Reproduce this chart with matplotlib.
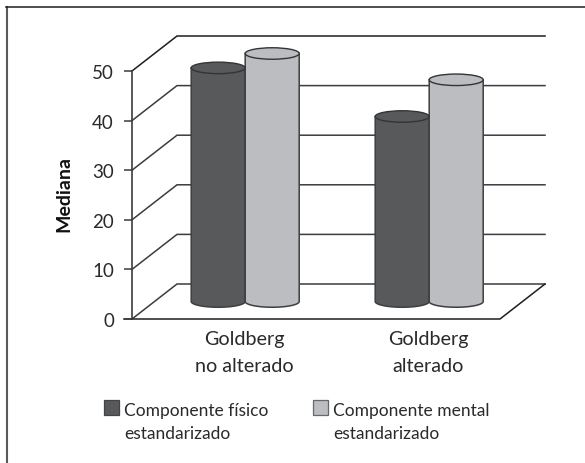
import matplotlib
matplotlib.use("Agg")
import matplotlib.pyplot as plt
import numpy as np
from matplotlib.lines import Line2D
from matplotlib.patches import Ellipse, Polygon, Rectangle

categories = ["Goldberg\nno alterado", "Goldberg\nalterado"]
series_names = ["Componente físico\nestandarizado", "Componente mental\nestandarizado"]
fisico = [47.1, 37.3]
mental = [50.0, 44.7]
y_ticks = [0, 10, 20, 30, 40, 50]

W, H = 585, 464
DARK = "#58595b"
LIGHT = "#bcbdc0"
LINE = "#3c3c3e"
TEXT = "#2a2a2c"

plt.rcParams["font.family"] = ["Lato", "DejaVu Sans"]

fig = plt.figure(figsize=(W / 100, H / 100), dpi=100)
fig.patch.set_facecolor("white")

# axes box covers the front plane of the 3D-looking plot
left, right, top, bottom = 132, 500, 72, 320
ax = fig.add_axes([left / W, 1 - bottom / H, (right - left) / W, (bottom - top) / H])
ax.set_xlim(0, 2)
ax.set_ylim(0, 50)
ax.patch.set_visible(False)
for s in ax.spines.values():
    s.set_visible(False)

px_x = 2 / (right - left)
px_y = 50 / (bottom - top)
depth_x = 45 * px_x
depth_y = 35 * px_y
bar_w = 54 * px_x
ell_h = 11.5 * px_y

# walls and floor
for v in y_ticks:
    col = "#1e1e20" if v == 50 else LINE
    ax.plot([0, depth_x, 2 + depth_x], [v, v + depth_y, v + depth_y],
            color=col, lw=1.1, clip_on=False, solid_joinstyle="miter", zorder=1)
ax.plot([2 + depth_x, 2, -8 * px_x], [depth_y, 0, 0], color="#1e1e20", lw=1.1,
        clip_on=False, zorder=1)
ax.plot([0, 0], [0, 50], color=LINE, lw=1.2, clip_on=False, zorder=1)

ax.set_yticks(y_ticks)
ax.tick_params(axis="y", length=6, width=1.1, color=LINE, labelsize=13.5,
               labelcolor=TEXT, pad=7)
ax.set_xticks([(244 - left) * px_x, (428 - left) * px_x])
ax.set_xticklabels(categories, fontsize=14.2, color=TEXT, linespacing=1.7)
ax.tick_params(axis="x", length=0, pad=8)
ax.set_ylabel("Mediana", fontsize=14, fontweight="bold", color="#111111")
ax.yaxis.set_label_coords((72 - left) / (right - left), (bottom - 194) / (bottom - top))


def cylinder(x0, value, color):
    # body plus bottom curve, then the lid ellipse on top
    base = depth_y / 2
    t = np.linspace(np.pi, 2 * np.pi, 60)
    xs = x0 + bar_w / 2 + bar_w / 2 * np.cos(t)
    ys = base + ell_h / 2 * np.sin(t)
    body = np.column_stack([np.r_[xs, x0 + bar_w, x0], np.r_[ys, base + value, base + value]])
    ax.add_patch(Polygon(body, closed=True, facecolor=color, edgecolor="#3e3f41",
                         lw=1.1, clip_on=False, zorder=3))
    ax.add_patch(Ellipse((x0 + bar_w / 2, base + value), bar_w, ell_h, facecolor=color,
                         edgecolor="#333436", lw=1.0, clip_on=False, zorder=4))


for i in range(len(categories)):
    centre = i + 0.5 + depth_x / 2 - 1.3 * px_x
    cylinder(centre - bar_w, fisico[i], DARK)
    cylinder(centre, mental[i], LIGHT)

# legend: swatch lines up with the first line of each two-line label
for name, color, edge, x in zip(series_names, [DARK, LIGHT], ["#444446", "#66676a"], [104, 313]):
    fig.add_artist(Rectangle((x / W, 1 - 416 / H), 15 / W, 15 / H, transform=fig.transFigure,
                             facecolor=color, edgecolor=edge, lw=0.9))
    # baseline anchoring on multi-line text refers to the last line
    fig.text((x + 20) / W, 1 - 439 / H, name, fontsize=12.5, color=TEXT, va="baseline",
             linespacing=1.5)

# frame: only the top and left edges are drawn
fig.add_artist(Line2D([6.5 / W, 6.5 / W], [0, 1 - 8 / H], transform=fig.transFigure,
                      color="#5a5a5c", lw=1.5))
fig.add_artist(Line2D([5.5 / W, 1], [1 - 8 / H, 1 - 8 / H], transform=fig.transFigure,
                      color="#1e1e20", lw=1.1))

fig.savefig("out.png", dpi=100)
